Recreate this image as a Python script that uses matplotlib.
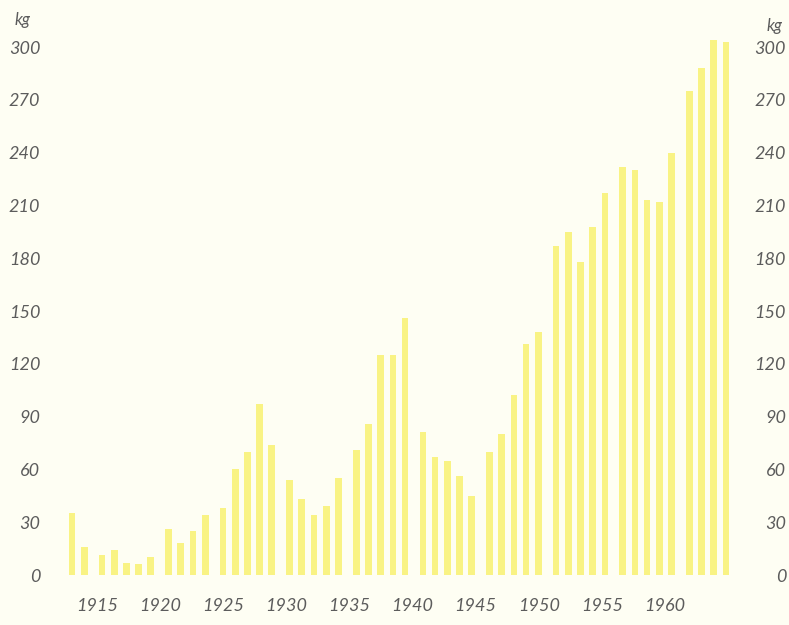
import matplotlib
matplotlib.use("Agg")
import matplotlib.pyplot as plt
import numpy as np

# ---- data ----
years = [1913, 1914,
         1915, 1916, 1917, 1918, 1919,
         1920, 1921, 1922, 1923,
         1925, 1926, 1927, 1928, 1929,
         1930, 1931, 1932, 1933, 1934,
         1935, 1936, 1937, 1938, 1939,
         1940, 1941, 1942, 1943, 1944,
         1945, 1946, 1947, 1948, 1949,
         1950, 1951, 1952, 1953, 1954,
         1955, 1956, 1957, 1958, 1959,
         1960, 1961, 1962, 1963]
values_kg = [35, 16,
             11.5, 14, 7, 6, 10,
             26, 18, 25, 34,
             38, 60, 70, 97, 74,
             54, 43, 34, 39, 55,
             71, 86, 125, 125, 146,
             81, 67, 65, 56, 45,
             70, 80, 102, 131, 138,
             187, 195, 178, 198, 217,
             232, 230, 213, 212, 240,
             275, 288, 305, 303]
year_ticks = [1915, 1920, 1925, 1930, 1935, 1940, 1945, 1950, 1955, 1960]
y_ticks = [0, 30, 60, 90, 120, 150, 180, 210, 240, 270, 300]
unit = "kg"

# ---- style ----
BG = "#fefef3"
BAR = "#f9f384"
TXT = "#5c5c5c"
FONT = ["Lato", "DejaVu Sans"]
plt.rcParams["font.family"] = FONT

fig = plt.figure(figsize=(7.89, 6.25), dpi=100, facecolor=BG)
W, H = 789, 625
left_px, right_px, top_px, bot_px = 50, 750, 40, 590
ax = fig.add_axes([left_px / W, 1 - bot_px / H, (right_px - left_px) / W, (bot_px - top_px) / H])
ax.set_facecolor(BG)

# bar positions: one slot per bar, small extra gap between 5-year groups
group_gap = 0.46
groups = [(y - 1910) // 5 for y in years]
pos = np.arange(len(years)) + group_gap * np.array(groups)

ax.bar(pos, values_kg, width=0.55, color=BAR, edgecolor="none", zorder=2)

# x scale: pixel = 72 + 12.2*slot
slot_px = 12.2
ax.set_xlim((left_px - 72) / slot_px, (right_px - 72) / slot_px)
px_per_kg = (575 - 47) / 300
ax.set_ylim(-(bot_px - 575) / px_per_kg, (575 - top_px) / px_per_kg)

for s in ax.spines.values():
    s.set_visible(False)

# left y ticks
ax.set_yticks(y_ticks)
ax.set_yticklabels([str(v) for v in y_ticks], fontstyle="italic", fontsize=13, color=TXT)
ax.tick_params(axis="y", length=0, pad=7)

# right y ticks (right-aligned like the reference)
axr = ax.twinx()
axr.set_ylim(ax.get_ylim())
for s in axr.spines.values():
    s.set_visible(False)
axr.set_yticks(y_ticks)
axr.set_yticklabels([str(v) for v in y_ticks], fontstyle="italic", fontsize=13, color=TXT)
for lab in axr.get_yticklabels():
    lab.set_horizontalalignment("right")
axr.tick_params(axis="y", length=0, pad=26)

# year labels on a linear year scale
a, b = 1913.02, 0.9667
ax.set_xticks([])
sec = ax.secondary_xaxis("bottom", functions=(lambda s: a + b * s, lambda y: (y - a) / b))
sec.set_xticks(year_ticks)
sec.set_xticklabels([str(y) for y in year_ticks], fontstyle="italic", fontsize=13, color=TXT)
sec.tick_params(axis="x", length=0, pad=6)
for s in sec.spines.values():
    s.set_visible(False)

fig.text(15 / W, 1 - 20 / H, unit, fontstyle="italic", fontsize=12, color=TXT, ha="left", va="center")
fig.text(782 / W, 1 - 26 / H, unit, fontstyle="italic", fontsize=12, color=TXT, ha="right", va="center")

fig.savefig("out.png", dpi=100, facecolor=BG)
